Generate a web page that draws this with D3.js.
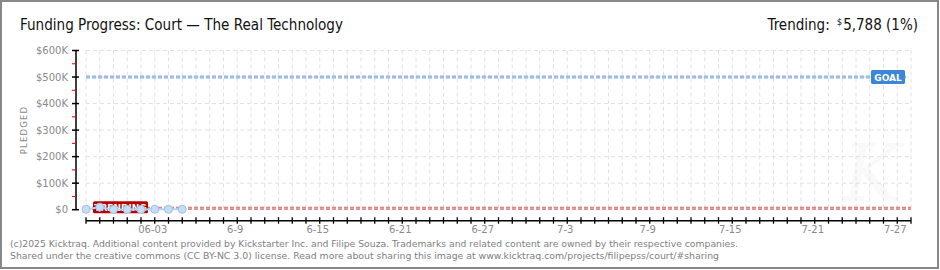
<!DOCTYPE html>
<html>
<head>
<meta charset="utf-8">
<script src="https://cdn.jsdelivr.net/npm/d3@7"></script>
<style>
  html, body { margin: 0; padding: 0; background: #fff; }
  svg { display: block; }
</style>
</head>
<body>
<svg id="chart" width="940" height="270"></svg>
<script>
// Campaign data
const titleText = "Funding Progress: Court \u2014 The Real Technology";
const dayDates = ["2025-05-29", "2025-05-30", "2025-05-31", "2025-06-01", "2025-06-02", "2025-06-03", "2025-06-04", "2025-06-05"];
const pledged = [1500, 9500, 1000, 1000, 1000, 1500, 1500, 1500];
const goal = 500000;
const trending = 5788;
const trendingPct = "1%";
const yTicks = [0, 100000, 200000, 300000, 400000, 500000, 600000];
const yTickLabels = ["$0", "$100K", "$200K", "$300K", "$400K", "$500K", "$600K"];
const xLabelDates = ["2025-06-03", "2025-06-09", "2025-06-15", "2025-06-21", "2025-06-27", "2025-07-03", "2025-07-09", "2025-07-15", "2025-07-21", "2025-07-27"];
const xLabels = ["06-03", "6-9", "6-15", "6-21", "6-27", "7-3", "7-9", "7-15", "7-21", "7-27"];
const domainStart = "2025-05-29";
const domainEnd = "2025-07-28";
const footerLines = [
  "(c)2025 Kicktraq. Additional content provided by Kickstarter Inc. and Filipe Souza. Trademarks and related content are owned by their respective companies.",
  "Shared under the creative commons (CC BY-NC 3.0) license. Read more about sharing this image at www.kicktraq.com/projects/filipepss/court/#sharing"
];

const parse = d3.utcParse("%Y-%m-%d");
const svg = d3.select("#chart");

// frame
svg.append("rect").attr("x", 1).attr("y", 1).attr("width", 937).attr("height", 267)
  .attr("fill", "#fff").attr("stroke", "#888").attr("stroke-width", 2);

const x = d3.scaleUtc().domain([parse(domainStart), parse(domainEnd)]).range([86, 911]);
const y = d3.scaleLinear().domain([0, 600000]).range([209.7, 50.5]);

// watermark
svg.append("text").attr("x", 872).attr("y", 200).attr("text-anchor", "middle")
  .attr("font-family", "DejaVu Serif").attr("font-style", "italic").attr("font-size", 78)
  .attr("fill", "#f9f9f9").text("K");

// grid
const days = d3.utcDay.range(parse(domainStart), d3.utcDay.offset(parse(domainEnd), 1));
svg.append("g").selectAll("line").data(days).join("line")
  .attr("x1", d => x(d)).attr("x2", d => x(d))
  .attr("y1", y(600000)).attr("y2", y(0))
  .attr("stroke", "#e2e2e2").attr("stroke-dasharray", "4,3");
svg.append("g").selectAll("line").data(yTicks.slice(1)).join("line")
  .attr("x1", x.range()[0]).attr("x2", x.range()[1])
  .attr("y1", d => y(d)).attr("y2", d => y(d))
  .attr("stroke", "#e2e2e2").attr("stroke-dasharray", "4,3");

// y axis
const yAxis = svg.append("g").attr("transform", "translate(76,0)");
yAxis.append("line").attr("x1", 0).attr("x2", 0).attr("y1", y(600000)).attr("y2", y(0)).attr("stroke", "#000").attr("stroke-width", 1.5);
yAxis.selectAll("line.minor").data(d3.range(50000, 600000, 100000)).join("line").attr("class", "minor")
  .attr("x1", -4).attr("x2", 0).attr("y1", d => y(d)).attr("y2", d => y(d)).attr("stroke", "#e00000");
yAxis.selectAll("line.major").data(yTicks).join("line").attr("class", "major")
  .attr("x1", -4).attr("x2", 3).attr("y1", d => y(d)).attr("y2", d => y(d)).attr("stroke", "#000").attr("stroke-width", 1.5);
yAxis.selectAll("text").data(yTicks).join("text")
  .attr("x", -8).attr("y", d => y(d) + 3.5).attr("text-anchor", "end")
  .attr("font-family", "DejaVu Sans").attr("font-size", 10).attr("fill", "#8a8a8a")
  .text((d, i) => yTickLabels[i]);
svg.append("text").attr("transform", "translate(27,130) rotate(-90)").attr("text-anchor", "middle")
  .attr("font-family", "DejaVu Sans").attr("font-size", 8.5).attr("letter-spacing", 1.2).attr("fill", "#8a8a8a")
  .text("PLEDGED");

// x axis
const xAxisY = 220.7;
const xa = svg.append("g");
xa.append("line").attr("x1", x.range()[0]).attr("x2", x.range()[1]).attr("y1", xAxisY).attr("y2", xAxisY).attr("stroke", "#000").attr("stroke-width", 1.5);
xa.selectAll("line.t").data(days).join("line").attr("class", "t")
  .attr("x1", d => x(d)).attr("x2", d => x(d)).attr("y1", xAxisY - 3.5).attr("y2", xAxisY + 3)
  .attr("stroke", "#000").attr("stroke-width", 1.3);
xa.selectAll("text").data(xLabelDates).join("text")
  .attr("x", d => x(parse(d)) - 2).attr("y", 233).attr("text-anchor", "middle")
  .attr("font-family", "DejaVu Sans").attr("font-size", 10).attr("fill", "#8a8a8a")
  .text((d, i) => xLabels[i]);

// goal line
svg.append("line").attr("x1", x.range()[0]).attr("x2", 907).attr("y1", y(goal)).attr("y2", y(goal))
  .attr("stroke", "#86aedb").attr("stroke-width", 3).attr("stroke-dasharray", "4,2");
svg.append("line").attr("x1", x.range()[0]).attr("x2", 907).attr("y1", y(goal)).attr("y2", y(goal))
  .attr("stroke", "#b6d0ee").attr("stroke-width", 1).attr("stroke-dasharray", "4,2");
const goalG = svg.append("g").attr("transform", `translate(871,${y(goal) - 7})`);
goalG.append("rect").attr("width", 34).attr("height", 14).attr("rx", 1.5).attr("fill", "#3b86d8");
goalG.append("text").attr("x", 17).attr("y", 10.5).attr("text-anchor", "middle")
  .attr("font-family", "DejaVu Sans").attr("font-weight", "bold").attr("font-size", 9).attr("fill", "#fff").text("GOAL");

// trending line
svg.append("line").attr("x1", x.range()[0]).attr("x2", x.range()[1]).attr("y1", y(trending)).attr("y2", y(trending))
  .attr("stroke", "#d36a6e").attr("stroke-width", 3).attr("stroke-dasharray", "4,2");
svg.append("line").attr("x1", x.range()[0]).attr("x2", x.range()[1]).attr("y1", y(trending)).attr("y2", y(trending))
  .attr("stroke", "#efb8ba").attr("stroke-width", 1).attr("stroke-dasharray", "4,2");
const trG = svg.append("g").attr("transform", `translate(93,${y(trending) - 7})`);
trG.append("rect").attr("width", 55).attr("height", 12).attr("rx", 1.5).attr("fill", "#b70000");
trG.append("text").attr("x", 27.5).attr("y", 9.5).attr("text-anchor", "middle")
  .attr("font-family", "DejaVu Sans").attr("font-weight", "bold").attr("font-size", 9).attr("fill", "#fff").text("TRENDING");

// pledged series
const pts = dayDates.map((d, i) => ({ date: parse(d), value: pledged[i] }));
svg.append("path").datum(pts)
  .attr("d", d3.line().x(d => x(d.date)).y(d => y(d.value)))
  .attr("fill", "none").attr("stroke", "#b7d3f2").attr("stroke-width", 2);
svg.append("g").selectAll("circle").data(pts).join("circle")
  .attr("cx", d => x(d.date)).attr("cy", d => y(d.value)).attr("r", 4)
  .attr("fill", "#c6ddf6").attr("stroke", "#9fc0e8").attr("stroke-width", 1);

// title and trending summary
svg.append("text").attr("x", 20).attr("y", 30)
  .attr("font-family", "DejaVu Sans Condensed").attr("font-size", 16).attr("fill", "#111")
  .attr("textLength", 323).attr("lengthAdjust", "spacingAndGlyphs").text(titleText);
const tr = svg.append("text").attr("x", 918).attr("y", 30).attr("text-anchor", "end")
  .attr("font-family", "DejaVu Sans Condensed").attr("font-size", 15).attr("fill", "#111");
tr.append("tspan").text("Trending:");
tr.append("tspan").attr("dx", 7).attr("font-size", 9.5).attr("dy", -5).text("$");
tr.append("tspan").attr("dx", 1).attr("dy", 5).text(d3.format(",")(trending) + " (" + trendingPct + ")");

// footer
svg.append("g").selectAll("text").data(footerLines).join("text")
  .attr("x", 10).attr("y", (d, i) => 247 + i * 12.3)
  .attr("font-family", "DejaVu Sans").attr("font-size", 9.5).attr("fill", "#808080")
  .attr("textLength", (d, i) => i === 0 ? 728 : 709).attr("lengthAdjust", "spacingAndGlyphs")
  .text(d => d);
</script>
</body>
</html>
